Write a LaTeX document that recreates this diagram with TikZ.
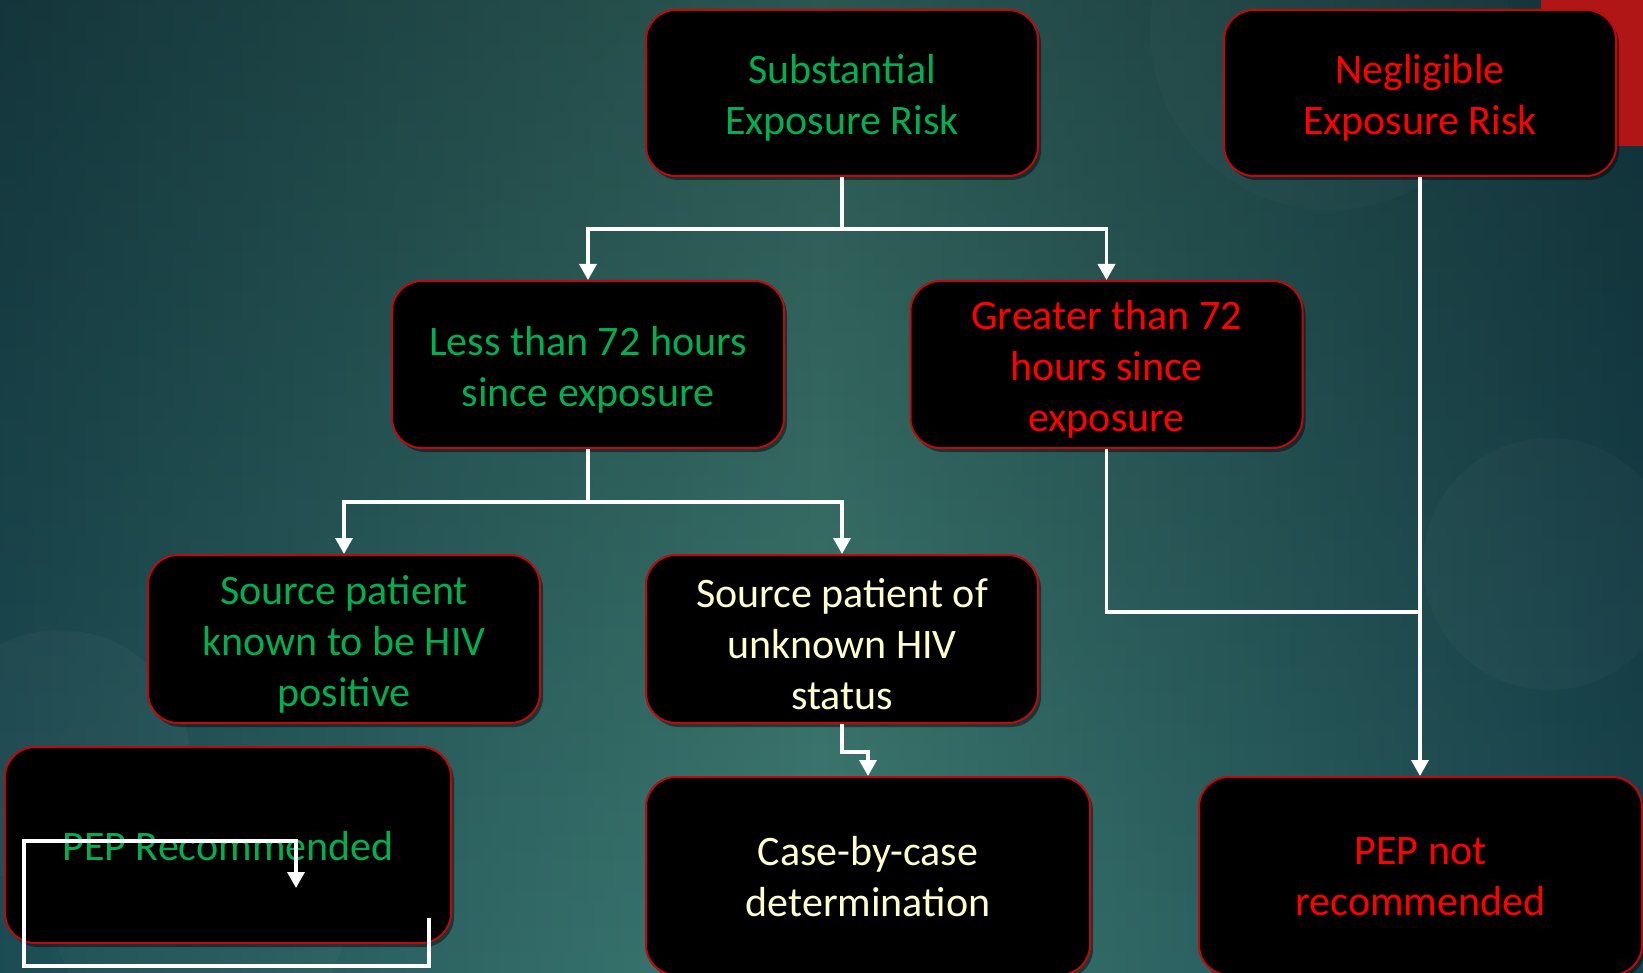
\documentclass[tikz,border=0pt]{standalone}
\usepackage{fontspec}
\setmainfont{Carlito}
\usetikzlibrary{arrows.meta,shadows,fadings}
\definecolor{pgreen}{RGB}{0,176,80}
\definecolor{pred}{RGB}{255,0,0}
\definecolor{pyellow}{RGB}{255,255,205}
\definecolor{boxred}{RGB}{192,10,10}
\definecolor{barred}{RGB}{176,22,22}
\definecolor{bgleft}{RGB}{28,76,84}
\definecolor{bgmid}{RGB}{62,124,115}
\definecolor{bgright}{RGB}{24,68,78}
\begin{document}
\begin{tikzpicture}[x=1pt,y=-1pt,
  box/.style={draw=boxred, line width=2pt, fill=black, rounded corners=30pt,
    inner sep=0pt,
    drop shadow={shadow xshift=3pt, shadow yshift=-4pt, opacity=0.45, fill=black}},
  lbl/.style={align=center, inner sep=0pt, font=\fontsize{42}{51}\selectfont, yshift=-5pt},
  lblb/.style={lbl, yshift=4pt},
  conn/.style={draw=white, line width=3.5pt},
  arr/.style={conn, -{Triangle[length=16pt,width=17pt]}}]
\useasboundingbox (0,0) rectangle (1643,973);
% background
\shade[left color=bgleft, right color=bgright, middle color=bgmid] (-10,-10) rectangle (1653,983);
\fill[black, opacity=0.3, path fading=south] (-10,-10) rectangle (1653,983);
\fill[white, opacity=0.025] (1549,564) circle (126);
\fill[white, opacity=0.03] (60,760) circle (130);
\fill[white, opacity=0.025] (200,900) circle (150);
\fill[white, opacity=0.02] (1330,30) circle (180);
\fill[barred] (1541,-5) rectangle (1648,146);
% boxes
\node[box, minimum width=392pt, minimum height=166pt] (sub) at (842,93) {};
\node[box, minimum width=392pt, minimum height=166pt] (neg) at (1420,93) {};
\node[box, minimum width=392pt, minimum height=167pt] (less) at (588,364.5) {};
\node[box, minimum width=392pt, minimum height=167pt] (greater) at (1106.5,364.5) {};
\node[box, minimum width=392pt, minimum height=168pt] (known) at (344,639) {};
\node[box, minimum width=392pt, minimum height=168pt] (unk) at (842,639) {};
\node[box, minimum width=446pt, minimum height=196pt] (pepr) at (228,845) {};
\node[box, minimum width=444pt, minimum height=198pt] (case) at (868,876) {};
\node[box, minimum width=443pt, minimum height=198pt] (notrec) at (1420.5,876) {};
% labels
\node[lbl, text=pgreen] (subt) at (sub.center) {Substantial\\Exposure Risk};
\node[lbl, text=pred] (negt) at (neg.center) {Negligible\\Exposure Risk};
\node[lbl, text=pgreen] (lesst) at (less.center) {Less than 72 hours\\since exposure};
\node[lbl, text=pred] (greatert) at (greater.center) {Greater than 72\\hours since\\exposure};
\node[lbl, text=pgreen] (knownt) at (known.center) {Source patient\\known to be HIV\\positive};
\node[lbl, text=pyellow] (unkt) at (unk.center) {Source patient of\\unknown HIV\\status};
\node[lblb, text=pgreen] (peprt) at (pepr.center) {PEP Recommended};
\node[lblb, text=pyellow] (caset) at (case.center) {Case-by-case\\determination};
\node[lblb, text=pred] (notrect) at (notrec.center) {PEP not\\recommended};
% connectors
\coordinate (join) at (1420,612);
\coordinate (oddA) at (429,918);
\coordinate (oddB) at (296,888);
\draw[arr] (sub.south) -- ++(0,52) -| (less.north);
\draw[arr] (sub.south) -- ++(0,52) -| (greater.north);
\draw[arr] (less.south) -- ++(0,53) -| (known.north);
\draw[arr] (less.south) -- ++(0,53) -| (unk.north);
\draw[arr] (unk.south) -- ++(0,28) -| (case.north);
\draw[conn] (greater.south) |- (join);
\draw[arr] (neg.south) -- (neg.south |- notrec.north);
\draw[arr] (oddA) -- (429,966) -- (24,966) -- (24,841) -- (296,841) -- (oddB);
\end{tikzpicture}
\end{document}
